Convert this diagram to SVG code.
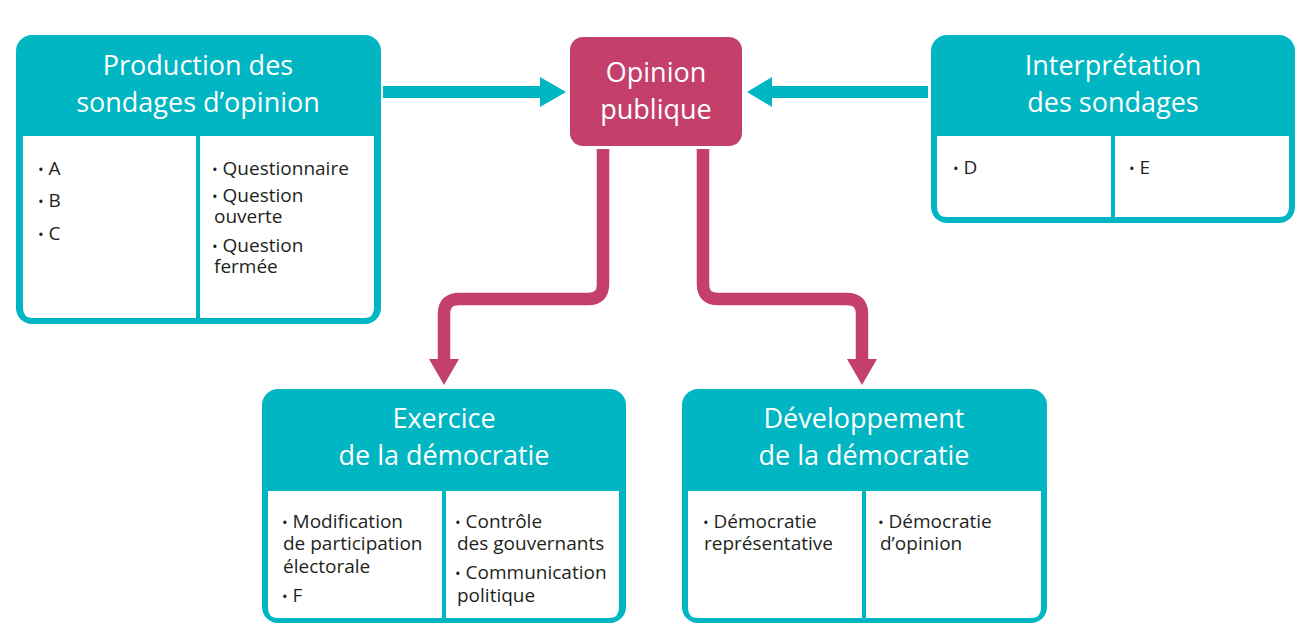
<svg xmlns="http://www.w3.org/2000/svg" width="1302" height="635" viewBox="0 0 1302 635">
<style>
.frame{fill:#00B6C3}
.cell{fill:#FFFFFF}
.div{stroke:#00B6C3;stroke-width:4}
.title{font-family:"Open Sans","Noto Sans",sans-serif;font-size:27px;fill:#FFFFFF;text-anchor:middle}
.body{font-family:"Open Sans","Noto Sans",sans-serif;font-size:19px;fill:#231F20}
.b{font-size:15px}
.tl{stroke:#00B6C3;stroke-width:12;fill:none}
.th{fill:#00B6C3}
.ml{stroke:#C4406B;stroke-width:12.5;fill:none}
.mh{fill:#C4406B}
</style>
<rect width="1302" height="635" fill="#FFFFFF"/>
<g id="connectors">
<line class="tl" x1="383" y1="92" x2="542" y2="92"/>
<polygon class="th" points="540,77 566,92 540,107"/>
<line class="tl" x1="928" y1="92" x2="770" y2="92"/>
<polygon class="th" points="772,77 747,92 772,107"/>
<path class="ml" d="M603,149 V284 Q603,299 588,299 H459 Q444,299 444,314 V361"/>
<polygon class="mh" points="429,359 459,359 444,385"/>
<path class="ml" d="M703,149 V284 Q703,299 718,299 H847 Q862,299 862,314 V361"/>
<polygon class="mh" points="847,359 877,359 862,385"/>
</g>
<g id="opinion">
<rect x="570" y="37" width="172" height="109" rx="13" fill="#C4406B"/>
<text class="title" x="656" y="82">Opinion</text>
<text class="title" x="656" y="119">publique</text>
</g>
<g id="production">
<rect class="frame" x="16" y="35" width="365" height="289" rx="16"/>
<path class="cell" d="M23,136 H374 V308 Q374,318 364,318 H33 Q23,318 23,308 Z"/>
<line class="div" x1="198" y1="136" x2="198" y2="318"/>
<text class="title" x="198" y="75">Production des</text>
<text class="title" x="198" y="112">sondages d’opinion</text>
<text class="body" x="38" y="175"><tspan class="b">•</tspan> A</text>
<text class="body" x="38" y="207"><tspan class="b">•</tspan> B</text>
<text class="body" x="38" y="240"><tspan class="b">•</tspan> C</text>
<text class="body" x="212" y="175"><tspan class="b">•</tspan> Questionnaire</text>
<text class="body" x="212" y="202"><tspan class="b">•</tspan> Question</text>
<text class="body" x="214" y="223">ouverte</text>
<text class="body" x="212" y="252"><tspan class="b">•</tspan> Question</text>
<text class="body" x="214" y="273">fermée</text>
</g>
<g id="interpretation">
<rect class="frame" x="931" y="35" width="364" height="188" rx="16"/>
<path class="cell" d="M937,136 H1289 V207 Q1289,217 1279,217 H947 Q937,217 937,207 Z"/>
<line class="div" x1="1113" y1="136" x2="1113" y2="217"/>
<text class="title" x="1113" y="75">Interprétation</text>
<text class="title" x="1113" y="112">des sondages</text>
<text class="body" x="953" y="174"><tspan class="b">•</tspan> D</text>
<text class="body" x="1129" y="174"><tspan class="b">•</tspan> E</text>
</g>
<g id="exercice">
<rect class="frame" x="262" y="389" width="364" height="234" rx="16"/>
<path class="cell" d="M268,491 H619 V608 Q619,618 609,618 H278 Q268,618 268,608 Z"/>
<line class="div" x1="444" y1="491" x2="444" y2="618"/>
<text class="title" x="444" y="428">Exercice</text>
<text class="title" x="444" y="465">de la démocratie</text>
<text class="body" x="282" y="528"><tspan class="b">•</tspan> Modification</text>
<text class="body" x="283" y="550">de participation</text>
<text class="body" x="283" y="573">électorale</text>
<text class="body" x="282" y="602"><tspan class="b">•</tspan> F</text>
<text class="body" x="455" y="528"><tspan class="b">•</tspan> Contrôle</text>
<text class="body" x="457" y="550">des gouvernants</text>
<text class="body" x="455" y="579"><tspan class="b">•</tspan> Communication</text>
<text class="body" x="457" y="602">politique</text>
</g>
<g id="developpement">
<rect class="frame" x="682" y="389" width="365" height="234" rx="16"/>
<path class="cell" d="M688,491 H1041 V608 Q1041,618 1031,618 H698 Q688,618 688,608 Z"/>
<line class="div" x1="864" y1="491" x2="864" y2="618"/>
<text class="title" x="864" y="428">Développement</text>
<text class="title" x="864" y="465">de la démocratie</text>
<text class="body" x="703" y="528"><tspan class="b">•</tspan> Démocratie</text>
<text class="body" x="704" y="550">représentative</text>
<text class="body" x="878" y="528"><tspan class="b">•</tspan> Démocratie</text>
<text class="body" x="880" y="550">d’opinion</text>
</g>
</svg>
